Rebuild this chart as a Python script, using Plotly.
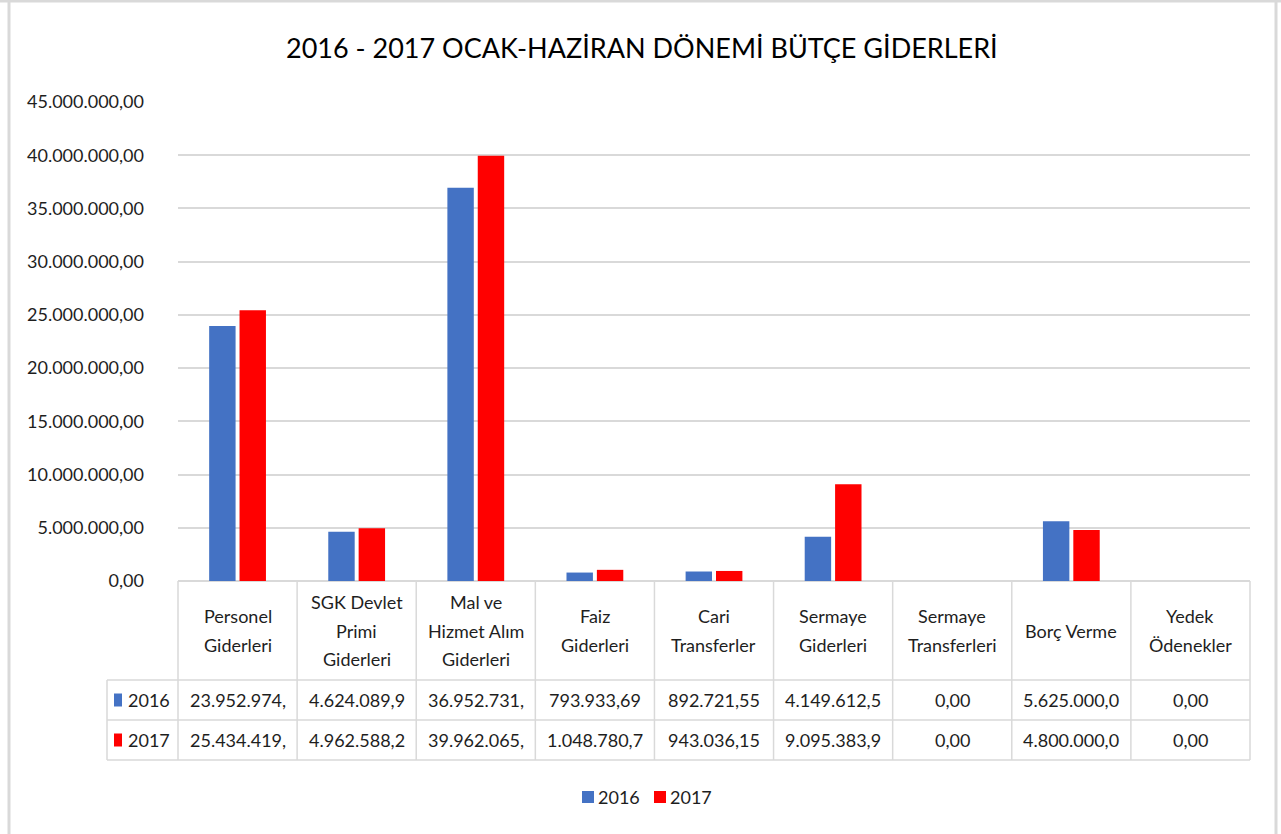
import plotly.graph_objects as go

W, H = 1281, 834

title = "2016 - 2017 OCAK-HAZİRAN DÖNEMİ BÜTÇE GİDERLERİ"
categories = [
    "Personel<br>Giderleri",
    "SGK Devlet<br>Primi<br>Giderleri",
    "Mal ve<br>Hizmet Alım<br>Giderleri",
    "Faiz<br>Giderleri",
    "Cari<br>Transferler",
    "Sermaye<br>Giderleri",
    "Sermaye<br>Transferleri",
    "Borç Verme",
    "Yedek<br>Ödenekler",
]
series_names = ["2016", "2017"]
values_2016 = [23952974.00, 4624089.90, 36952731.00, 793933.69, 892721.55,
               4149612.50, 0.00, 5625000.00, 0.00]
values_2017 = [25434419.00, 4962588.20, 39962065.00, 1048780.70, 943036.15,
               9095383.90, 0.00, 4800000.00, 0.00]
colors = ["#4472C4", "#FF0000"]
tick_values = [0, 5e6, 10e6, 15e6, 20e6, 25e6, 30e6, 35e6, 40e6, 45e6]


def tr_format(v):
    s = f"{v:,.2f}"
    return s.replace(",", "X").replace(".", ",").replace("X", ".")


def cell_text(v):
    # Excel data-table cells clip the text to the column width
    return tr_format(v)[:11]


tick_text = [tr_format(v) for v in tick_values]

FONT = "Lato, Open Sans, Liberation Sans, sans-serif"
FS = 18
TXT = "#1e1e1e"
GRID = "#d9d9d9"


def X(px):
    return px / W


def Y(py):
    return 1 - py / H


# plot-area pixel geometry
PL, PR, PT, PB = 178, 1250, 102, 581
ncat = len(categories)
colw = (PR - PL) / ncat
idx = list(range(ncat))

fig = go.Figure()
for name, vals, col in zip(series_names, [values_2016, values_2017], colors):
    fig.add_trace(go.Bar(x=idx, y=vals, name=name, marker=dict(color=col, line=dict(width=0)),
                         showlegend=False))

shapes = []
annotations = []

# outer chart frame (partially visible)
shapes.append(dict(type="line", xref="paper", yref="paper", x0=0, x1=1, y0=Y(1), y1=Y(1),
                   line=dict(color=GRID, width=3)))
shapes.append(dict(type="line", xref="paper", yref="paper", x0=X(9), x1=X(9), y0=Y(0), y1=0,
                   line=dict(color=GRID, width=3)))
shapes.append(dict(type="line", xref="paper", yref="paper", x0=X(1276), x1=X(1276), y0=Y(0), y1=0,
                   line=dict(color=GRID, width=3)))

# data table
TT, R1, R2, R3 = PB, 680, 720, 760
TL = 107
LINE_H = 28.5
for i in range(ncat + 1):
    xp = PL + i * colw
    shapes.append(dict(type="line", xref="paper", yref="paper", x0=X(xp), x1=X(xp),
                       y0=Y(TT), y1=Y(R3), line=dict(color=GRID, width=1.5)))
shapes.append(dict(type="line", xref="paper", yref="paper", x0=X(TL), x1=X(TL),
                   y0=Y(R1), y1=Y(R3), line=dict(color=GRID, width=1.5)))
for yy in (R1, R2, R3):
    shapes.append(dict(type="line", xref="paper", yref="paper", x0=X(TL), x1=X(PR),
                       y0=Y(yy), y1=Y(yy), line=dict(color=GRID, width=1.5)))

for i, cat in enumerate(categories):
    cx = PL + (i + 0.5) * colw
    lines = cat.split("<br>")
    mid = (TT + R1) / 2
    for k, ln in enumerate(lines):
        ly = mid + (k - (len(lines) - 1) / 2) * LINE_H
        annotations.append(dict(x=X(cx), y=Y(ly), xref="paper", yref="paper",
                                text=ln, showarrow=False, xanchor="center", yanchor="middle",
                                font=dict(family=FONT, size=FS, color=TXT)))
    for vals, (ya, yb) in zip([values_2016, values_2017], [(R1, R2), (R2, R3)]):
        annotations.append(dict(x=X(cx), y=Y((ya + yb) / 2), xref="paper", yref="paper",
                                text=cell_text(vals[i]), showarrow=False, xanchor="center",
                                yanchor="middle", font=dict(family=FONT, size=FS, color=TXT)))

for name, col, (ya, yb) in zip(series_names, colors, [(R1, R2), (R2, R3)]):
    cy = (ya + yb) / 2
    shapes.append(dict(type="rect", xref="paper", yref="paper", x0=X(114), x1=X(122),
                       y0=Y(cy - 6.5), y1=Y(cy + 6.5), fillcolor=col, line=dict(width=0)))
    annotations.append(dict(x=X(126), y=Y(cy), xref="paper", yref="paper", text=name,
                            showarrow=False, xanchor="left", yanchor="middle",
                            font=dict(family=FONT, size=FS, color=TXT)))

# bottom legend
LY = 797
for name, col, x0 in zip(series_names, colors, [582, 654]):
    shapes.append(dict(type="rect", xref="paper", yref="paper", x0=X(x0), x1=X(x0 + 12),
                       y0=Y(LY - 6), y1=Y(LY + 6), fillcolor=col, line=dict(width=0)))
    annotations.append(dict(x=X(x0 + 14), y=Y(LY), xref="paper", yref="paper", text=name,
                            showarrow=False, xanchor="left", yanchor="middle",
                            font=dict(family=FONT, size=FS, color=TXT)))

# title
annotations.append(dict(x=X(642), y=Y(48), xref="paper", yref="paper", text=title,
                        showarrow=False, xanchor="center", yanchor="middle",
                        font=dict(family=FONT, size=27, color="#000000")))

fig.update_layout(
    width=W, height=H,
    margin=dict(l=0, r=0, t=0, b=0, pad=0, autoexpand=False),
    paper_bgcolor="white", plot_bgcolor="white",
    bargap=0.49, bargroupgap=0.13, barmode="group",
    shapes=shapes, annotations=annotations,
    xaxis=dict(domain=[X(PL), X(PR)], range=[-0.5, ncat - 0.5], showticklabels=False,
               showgrid=False, zeroline=False, showline=False, ticks="", fixedrange=True,
               automargin=False),
    yaxis=dict(domain=[Y(PB), Y(PT)], range=[0, 45e6], tickvals=tick_values, ticktext=tick_text,
               showgrid=True, gridcolor=GRID, gridwidth=1.5, zeroline=True, zerolinecolor=GRID,
               zerolinewidth=1.5, showline=False, ticks="", ticklabelstandoff=33,
               tickfont=dict(family=FONT, size=FS, color=TXT), fixedrange=True,
               automargin=False),
    font=dict(family=FONT, color=TXT),
)

fig.write_html("out.html", config={"displayModeBar": False},
               post_script="document.body.style.margin='0';document.body.style.overflow='hidden';")
